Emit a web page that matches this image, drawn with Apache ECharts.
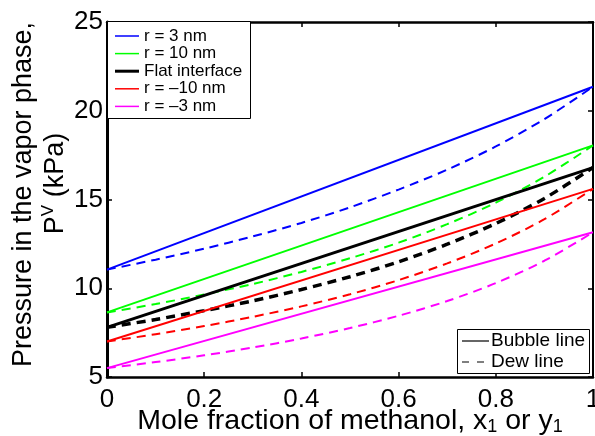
<!DOCTYPE html>
<html>
<head>
<meta charset="utf-8">
<script src="https://cdn.jsdelivr.net/npm/echarts@6/dist/echarts.min.js"></script>
<style>
  html, body { margin: 0; padding: 0; background: #fff; }
  #chart { width: 595px; height: 436px; }
</style>
</head>
<body>
<div id="chart"></div>
<script>
// ---- data ----
const xTicks = [0, 0.2, 0.4, 0.6, 0.8, 1];
const yTicks = [5, 10, 15, 20, 25];

// mole fraction grid used for the dew curves (y1)
const yFrac = [0, 0.1, 0.2, 0.3, 0.4, 0.5, 0.6, 0.7, 0.8, 0.9, 1];

// curve labels and colours
const curveNames = ['r = 3 nm', 'r = 10 nm', 'Flat interface', 'r = \u201310 nm', 'r = \u20133 nm'];
const curveColors = ['#0000ff', '#00ff00', '#000000', '#ff0000', '#ff00ff'];

// bubble lines (straight in x1): pressure at x1 = 0 and x1 = 1, kPa
const bubbleX = [0, 1];
const bubble3 = [11.05, 21.35];
const bubble10 = [8.64, 18.05];
const bubbleFlat = [7.8, 16.8];
const bubbleM10 = [7.0, 15.6];
const bubbleM3 = [5.5, 13.15];

// dew lines: pressure at each y1 in yFrac, kPa
const dew3 = [11.05, 11.61, 12.23, 12.92, 13.68, 14.56, 15.56, 16.68, 17.99, 19.53, 21.35];
const dew10 = [8.64, 9.11, 9.65, 10.24, 10.92, 11.69, 12.57, 13.61, 14.82, 16.28, 18.05];
const dewFlat = [7.8, 8.24, 8.74, 9.29, 9.93, 10.65, 11.49, 12.48, 13.65, 15.06, 16.8];
const dewM10 = [7.0, 7.41, 7.87, 8.39, 8.98, 9.66, 10.46, 11.40, 12.52, 13.89, 15.6];
const dewM3 = [5.5, 5.84, 6.22, 6.66, 7.17, 7.76, 8.45, 9.28, 10.29, 11.55, 13.15];

const lineKinds = ['Bubble line', 'Dew line'];

// ---- build ----
const FONT = "'Liberation Sans', Arial, Helvetica, sans-serif";
const bubbles = [bubble3, bubble10, bubbleFlat, bubbleM10, bubbleM3];
const dews = [dew3, dew10, dewFlat, dewM10, dewM3];

const pairs = (xs, ys) => xs.map((x, i) => [x, ys[i]]);

const series = [];
curveNames.forEach((name, i) => {
  const isFlat = curveColors[i] === '#000000';
  series.push({
    name: name,
    type: 'line',
    data: pairs(bubbleX, bubbles[i]),
    showSymbol: false,
    symbol: 'none',
    silent: true,
    lineStyle: { color: curveColors[i], width: isFlat ? 3 : 2, type: 'solid' },
    z: 2
  });
  series.push({
    name: name + ' dew',
    type: 'line',
    data: pairs(yFrac, dews[i]),
    smooth: 0.3,
    showSymbol: false,
    symbol: 'none',
    silent: true,
    lineStyle: { color: curveColors[i], width: isFlat ? 3.5 : 2, type: [9, 6] },
    z: 2
  });
});

// legend boxes drawn as graphics
const graphics = [];
(function () {
  const bx = 107.5, by = 21.5, bw = 143, bh = 97;
  graphics.push({ type: 'rect', shape: { x: bx, y: by, width: bw, height: bh },
    style: { fill: '#fff', stroke: '#000', lineWidth: 1 }, z: 100 });
  curveNames.forEach((name, i) => {
    const yy = 36 + i * 17.6;
    const isFlat = curveColors[i] === '#000000';
    graphics.push({ type: 'line', shape: { x1: 115, y1: yy, x2: 139, y2: yy },
      style: { stroke: curveColors[i], lineWidth: isFlat ? 3 : 1.5 }, z: 101 });
    graphics.push({ type: 'text', x: 144, y: yy,
      style: { text: name, font: '17px ' + FONT, fill: '#000', verticalAlign: 'middle' }, z: 101 });
  });
})();
(function () {
  const bx = 457.5, by = 329.5, bw = 132, bh = 44;
  graphics.push({ type: 'rect', shape: { x: bx, y: by, width: bw, height: bh },
    style: { fill: '#fff', stroke: '#000', lineWidth: 1 }, z: 100 });
  lineKinds.forEach((name, i) => {
    const yy = 341 + i * 21;
    graphics.push({ type: 'line', shape: { x1: 462, y1: yy, x2: 489, y2: yy },
      style: { stroke: '#000', lineWidth: 1.2, lineDash: i === 0 ? null : [7, 8] }, z: 101 });
    graphics.push({ type: 'text', x: 491, y: yy,
      style: { text: name, font: '19px ' + FONT, fill: '#000', verticalAlign: 'middle' }, z: 101 });
  });
})();

const axisLineStyle = (w) => ({ show: true, onZero: false, lineStyle: { color: '#000', width: w } });
const tickStyle = { show: true, inside: true, length: 5, lineStyle: { color: '#000', width: 1.5 } };

const option = {
  animation: false,
  backgroundColor: '#fff',
  grid: { left: 107, right: 2, top: 22, bottom: 59, containLabel: false, outerBoundsMode: 'none' },
  xAxis: [
    {
      type: 'value', position: 'bottom', min: xTicks[0], max: xTicks[xTicks.length - 1],
      interval: xTicks[1] - xTicks[0],
      axisLine: axisLineStyle(2.5), axisTick: tickStyle, splitLine: { show: false },
      axisLabel: { show: true, color: '#000', fontSize: 26, fontFamily: FONT, margin: 10,
        showMinLabel: true, showMaxLabel: true, hideOverlap: false },
      name: '{a|Mole fraction of methanol, x}{s|1}{a| or y}{s|1}',
      nameLocation: 'middle', nameGap: 29, nameMoveOverlap: false,
      nameTextStyle: {
        color: '#000',
        rich: {
          a: { fontSize: 28.5, fontFamily: FONT, color: '#000', lineHeight: 30 },
          s: { fontSize: 18, fontFamily: FONT, color: '#000', verticalAlign: 'bottom', lineHeight: 30 }
        }
      }
    },
    {
      type: 'value', position: 'top', min: xTicks[0], max: xTicks[xTicks.length - 1],
      interval: xTicks[1] - xTicks[0],
      axisLine: axisLineStyle(2.5), axisTick: tickStyle, splitLine: { show: false },
      axisLabel: { show: false }
    }
  ],
  yAxis: [
    {
      type: 'value', position: 'left', min: yTicks[0], max: yTicks[yTicks.length - 1],
      interval: yTicks[1] - yTicks[0],
      axisLine: axisLineStyle(3), axisTick: tickStyle, splitLine: { show: false },
      axisLabel: { show: true, color: '#000', fontSize: 26, fontFamily: FONT, margin: 4,
        padding: [6, 0, 0, 0],
        showMinLabel: true, showMaxLabel: true, hideOverlap: false },
      name: '{a|Pressure in the vapor phase,}\n{g|}{a|P}{p|V}{a| (kPa)}',
      nameLocation: 'middle', nameRotate: 90, nameGap: 35, nameMoveOverlap: false,
      nameTextStyle: {
        color: '#000', align: 'center', padding: [0, 0, 0, 10],
        rich: {
          a: { fontSize: 27, fontFamily: FONT, color: '#000', lineHeight: 32 },
          p: { fontSize: 17, fontFamily: FONT, color: '#000', verticalAlign: 'top', lineHeight: 32 },
          g: { width: 22, lineHeight: 32 }
        }
      }
    },
    {
      type: 'value', position: 'right', min: yTicks[0], max: yTicks[yTicks.length - 1],
      interval: yTicks[1] - yTicks[0],
      axisLine: axisLineStyle(2), axisTick: tickStyle, splitLine: { show: false },
      axisLabel: { show: false }
    }
  ],
  series: series,
  graphic: graphics
};

const chart = echarts.init(document.getElementById('chart'), null, { renderer: 'canvas' });
chart.setOption(option);
</script>
</body>
</html>
